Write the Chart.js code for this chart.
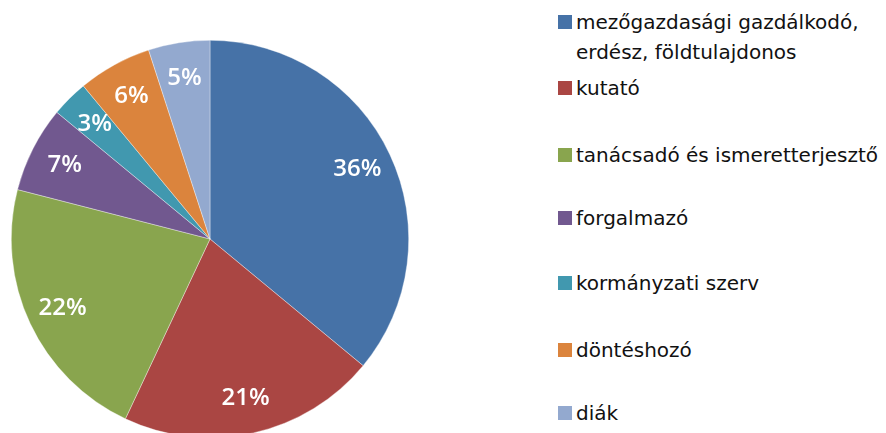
<!DOCTYPE html>
<html>
<head>
<meta charset="utf-8">
<script src="https://cdn.jsdelivr.net/npm/chart.js@4"></script>
<style>
  html, body { margin:0; padding:0; width:886px; height:433px; overflow:hidden; background:#fff; }
  #wrap { position:absolute; left:0; top:0; width:420px; height:480px; }
  .leg { position:absolute; left:558px; font-family:"DejaVu Sans", sans-serif; font-size:20px; color:#111; line-height:30px; white-space:nowrap; }
  .sw { position:absolute; left:0; top:8px; width:14px; height:14px; }
  .tx { position:absolute; left:18px; top:0; }
</style>
</head>
<body>
<div id="wrap"><canvas id="c" width="420" height="480"></canvas></div>
<div id="legend"></div>
<script>
const categories = [
  "mezőgazdasági gazdálkodó,\nerdész, földtulajdonos",
  "kutató",
  "tanácsadó és ismeretterjesztő",
  "forgalmazó",
  "kormányzati szerv",
  "döntéshozó",
  "diák"
];
const values = [36, 21, 22, 7, 3, 6, 5];
const colors = ["#4672A7", "#AA4643", "#89A54E", "#71588F", "#4198AF", "#DB843D", "#93A9CF"];
const legendTops = [7, 73, 140, 203, 268, 335, 398];

// HTML legend
const legEl = document.getElementById('legend');
categories.forEach((c, i) => {
  const d = document.createElement('div');
  d.className = 'leg';
  d.style.top = legendTops[i] + 'px';
  const sw = document.createElement('div');
  sw.className = 'sw';
  sw.style.background = colors[i];
  const tx = document.createElement('div');
  tx.className = 'tx';
  tx.innerHTML = c.split('\n').map(s => s.replace(/&/g,'&amp;')).join('<br>');
  d.appendChild(sw); d.appendChild(tx);
  legEl.appendChild(d);
});

const labelPlugin = {
  id: 'pctLabels',
  afterDatasetsDraw(chart) {
    const ctx = chart.ctx;
    const meta = chart.getDatasetMeta(0);
    const total = values.reduce((a, b) => a + b, 0);
    ctx.save();
    ctx.fillStyle = '#fff';
    ctx.font = '600 24px "Open Sans", sans-serif';
    ctx.textAlign = 'center';
    ctx.textBaseline = 'middle';
    meta.data.forEach((arc, i) => {
      const p = arc.getProps(['x', 'y', 'startAngle', 'endAngle', 'outerRadius'], true);
      const mid = (p.startAngle + p.endAngle) / 2;
      const r = p.outerRadius * 0.82;
      const x = p.x + Math.cos(mid) * r;
      const y = p.y + Math.sin(mid) * r;
      ctx.fillText(Math.round(values[i] / total * 100) + '%', x, y);
    });
    ctx.restore();
  }
};

new Chart(document.getElementById('c'), {
  type: 'pie',
  data: {
    labels: categories,
    datasets: [{
      data: values,
      backgroundColor: colors,
      borderColor: 'rgba(255,255,255,0.6)',
      borderWidth: 0.6
    }]
  },
  options: {
    responsive: false,
    animation: false,
    layout: { padding: { left: 11, right: 11, top: 40, bottom: 42 } },
    plugins: {
      legend: { display: false },
      tooltip: { enabled: false }
    }
  },
  plugins: [labelPlugin]
});
</script>
</body>
</html>
